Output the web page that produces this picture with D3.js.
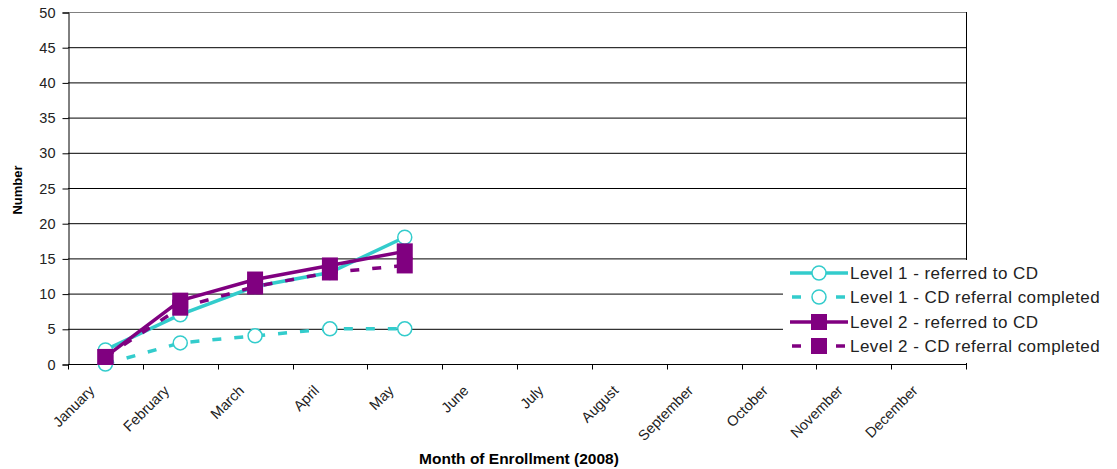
<!DOCTYPE html>
<html>
<head>
<meta charset="utf-8">
<script src="https://cdn.jsdelivr.net/npm/d3@7"></script>
<style>
  html, body { margin: 0; padding: 0; background: #fff; }
  svg { display: block; font-family: "Liberation Sans", Arial, sans-serif; }
</style>
</head>
<body>
<svg id="chart" width="1117" height="469"></svg>
<script>
// Months of enrollment (2008)
const months = ["January", "February", "March", "April", "May", "June", "July",
  "August", "September", "October", "November", "December"];

// Monthly counts, January through May
const level1Referred = [2, 7, 11, 13, 18];
const level1Completed = [0, 3, 4, 5, 5];
const level2Referred = [1, 9, 12, 14, 16];
const level2Completed = [1, 8, 11, 13, 14];

const yTicks = [0, 5, 10, 15, 20, 25, 30, 35, 40, 45, 50];

const series = [
  { name: "Level 1 - referred to CD", values: level1Referred, color: "#33CCCC", dashed: false, marker: "circle" },
  { name: "Level 1 - CD referral completed", values: level1Completed, color: "#33CCCC", dashed: true, marker: "circle" },
  { name: "Level 2 - referred to CD", values: level2Referred, color: "#800080", dashed: false, marker: "square" },
  { name: "Level 2 - CD referral completed", values: level2Completed, color: "#800080", dashed: true, marker: "square" }
];

const svg = d3.select("#chart");
const plot = { left: 68, right: 966, top: 12, bottom: 364 };

const x = d3.scaleBand().domain(months).range([plot.left, plot.right]).paddingInner(0).paddingOuter(0);
const y = d3.scaleLinear().domain([0, 50]).range([plot.bottom, plot.top]);

// Horizontal gridlines
svg.append("g")
  .selectAll("line")
  .data(yTicks.filter(d => d > 0))
  .join("line")
  .attr("x1", plot.left).attr("x2", plot.right)
  .attr("y1", d => y(d) + 0.5).attr("y2", d => y(d) + 0.5)
  .attr("stroke", d => d === 50 ? "#808080" : "#000")
  .attr("stroke-width", 1);

// Right border of plot area
svg.append("line")
  .attr("x1", plot.right + 0.5).attr("x2", plot.right + 0.5)
  .attr("y1", plot.top).attr("y2", plot.bottom)
  .attr("stroke", "#000");

// Y axis
const yAxis = svg.append("g")
  .attr("transform", `translate(${plot.left + 0.5},0.5)`)
  .call(d3.axisLeft(y).tickValues(yTicks).tickSize(6).tickPadding(7));
yAxis.select(".domain").attr("stroke", "#000");
yAxis.selectAll(".tick line").attr("stroke", "#000");
yAxis.selectAll(".tick text")
  .attr("font-size", 14.5).attr("fill", "#222")
  .attr("font-family", "Liberation Sans, Arial, sans-serif");

// X axis: ticks on band boundaries
const xAxisG = svg.append("g").attr("transform", `translate(0,${plot.bottom + 0.5})`);
xAxisG.append("line")
  .attr("x1", plot.left).attr("x2", plot.right + 1)
  .attr("stroke", "#000");
const boundaries = d3.range(months.length + 1).map(i => plot.left + i * x.bandwidth());
xAxisG.selectAll(".bt")
  .data(boundaries)
  .join("line")
  .attr("class", "bt")
  .attr("x1", d => Math.round(d) + 0.5).attr("x2", d => Math.round(d) + 0.5)
  .attr("y1", 0).attr("y2", 5)
  .attr("stroke", "#000");
xAxisG.selectAll(".ml")
  .data(months)
  .join("text")
  .attr("class", "ml")
  .attr("transform", d => `translate(${x(d) + x.bandwidth() / 2 - 10},${27}) rotate(-45)`)
  .attr("text-anchor", "end")
  .attr("font-size", 14.5)
  .attr("fill", "#222")
  .text(d => d);

// Axis titles
svg.append("text")
  .attr("transform", "translate(22,190) rotate(-90)")
  .attr("text-anchor", "middle")
  .attr("font-size", 13).attr("font-weight", "bold")
  .text("Number");
svg.append("text")
  .attr("x", 519).attr("y", 464)
  .attr("text-anchor", "middle")
  .attr("font-size", 15.5).attr("font-weight", "bold")
  .text("Month of Enrollment (2008)");

// Series lines and markers
const line = d3.line()
  .x((d, i) => x(months[i]) + x.bandwidth() / 2)
  .y(d => y(d));

function drawMarker(g, type, color, cx, cy) {
  if (type === "circle") {
    g.append("circle")
      .attr("cx", cx).attr("cy", cy).attr("r", 7)
      .attr("fill", "#fff").attr("stroke", color).attr("stroke-width", 1.5);
  } else {
    g.append("rect")
      .attr("x", cx - 8).attr("y", cy - 8)
      .attr("width", 16).attr("height", 16)
      .attr("fill", color);
  }
}

const seriesG = svg.append("g");
series.forEach(s => {
  seriesG.append("path")
    .datum(s.values)
    .attr("d", line)
    .attr("fill", "none")
    .attr("stroke", s.color)
    .attr("stroke-width", 3.5)
    .attr("stroke-dasharray", s.dashed ? "9,13" : null);
});
series.forEach(s => {
  const mg = seriesG.append("g");
  s.values.forEach((v, i) => {
    drawMarker(mg, s.marker, s.color, x(months[i]) + x.bandwidth() / 2, y(v));
  });
});

// Legend
const legend = svg.append("g");
legend.append("rect")
  .attr("x", 783).attr("y", 260).attr("width", 334).attr("height", 103)
  .attr("fill", "#fff");
const rowY = [273, 297, 322, 346];
series.forEach((s, i) => {
  const g = legend.append("g");
  g.append("line")
    .attr("x1", 790).attr("x2", 848)
    .attr("y1", rowY[i]).attr("y2", rowY[i])
    .attr("stroke", s.color).attr("stroke-width", 3.5)
    .attr("stroke-dasharray", s.dashed ? "9,13" : null)
    .attr("stroke-dashoffset", s.dashed ? -2 : null);
  drawMarker(g, s.marker, s.color, 819, rowY[i]);
  g.append("text")
    .attr("x", 850).attr("y", rowY[i] + 6)
    .attr("font-size", 17).attr("letter-spacing", 0.45).attr("fill", "#222")
    .text(s.name);
});
</script>
</body>
</html>
